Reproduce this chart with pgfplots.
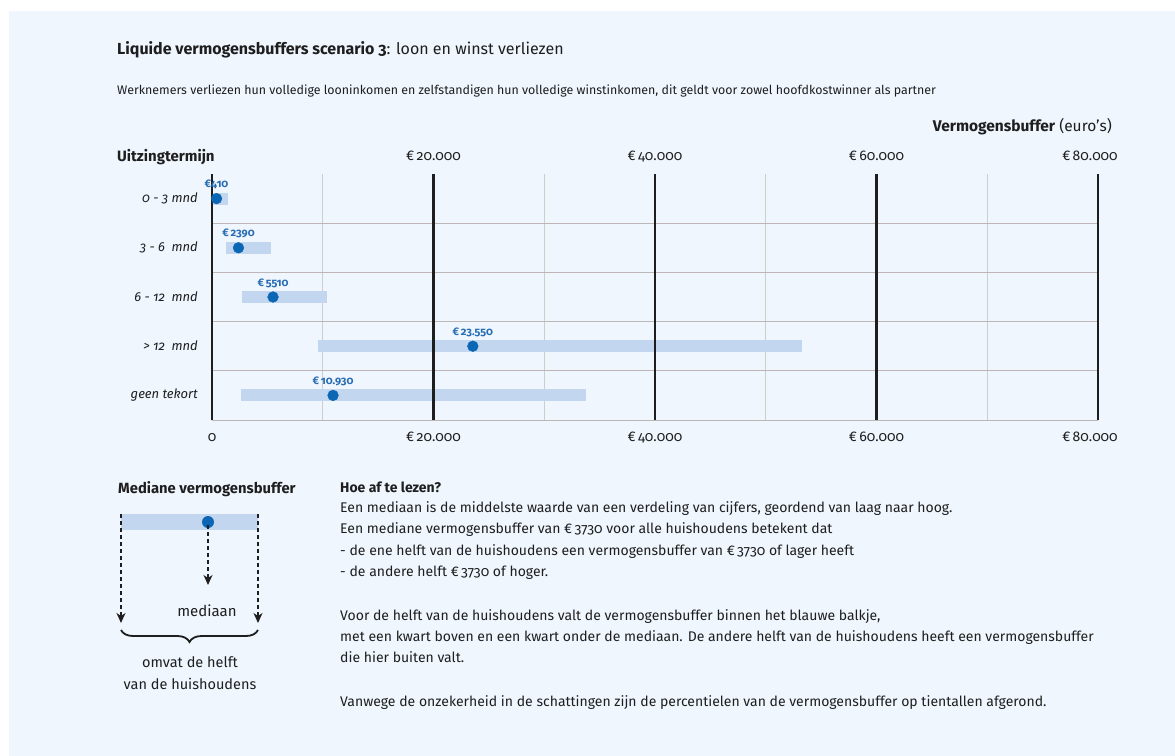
\documentclass[border=0pt]{standalone}
\usepackage{fontspec}
\setmainfont{Fira Sans}[Numbers=OldStyle]
\usepackage{pgfplots}
\pgfplotsset{compat=1.18}
\usetikzlibrary{arrows.meta,decorations.pathreplacing}

\definecolor{panel}{RGB}{239,246,254}
\definecolor{barfill}{RGB}{194,214,240}
\definecolor{dotblue}{RGB}{11,102,180}
\definecolor{labblue}{RGB}{40,108,180}
\definecolor{ink}{RGB}{30,30,30}
\definecolor{minorgray}{RGB}{205,205,205}
\definecolor{sepgray}{RGB}{190,182,182}

\newcommand{\fs}[2]{\fontsize{#1bp}{#2bp}\selectfont}

\begin{document}
\begin{tikzpicture}
\fill[white] (0,0) rectangle (1175bp,-756bp);
\fill[panel] (9bp,-11bp) rectangle (1175bp,-756bp);

% titels
\node[anchor=base west, inner sep=0, text=ink, font=\fs{16}{19}] at (117bp,-54bp)
  {\textbf{Liquide vermogensbuffers scenario 3}: loon en winst verliezen};
\node[anchor=base west, inner sep=0, text=ink, font=\fs{12.4}{15}] at (117bp,-94bp)
  {Werknemers verliezen hun volledige looninkomen en zelfstandigen hun volledige winstinkomen, dit geldt voor zowel hoofdkostwinner als partner};
\node[anchor=base east, inner sep=0, text=ink, font=\fs{15.5}{18}] at (1112bp,-131bp)
  {\textbf{Vermogensbuffer} (euro’s)};
\node[anchor=base west, inner sep=0, text=ink, font=\fs{15}{18}\bfseries] at (117bp,-161bp)
  {Uitzingtermijn};

% hoofdas: balken, hulplijnen, onderste labels
\begin{axis}[
  at={(212bp,-420bp)}, anchor=south west,
  width=886bp, height=246bp, scale only axis,
  xmin=0, xmax=80000, ymin=0.5, ymax=5.5,
  scaled x ticks=false,
  axis line style={draw=none},
  major tick length=0pt, minor tick length=0pt,
  xtick={0,20000,40000,60000,80000},
  xticklabels={0,€\,20.000,€\,40.000,€\,60.000,\hspace*{-16bp}€\,80.000},
  minor xtick={10000,30000,50000,70000},
  xminorgrids, minor x grid style={minorgray, line width=1.3bp},
  ytick={1,2,3,4,5},
  yticklabels={geen tekort,> 12\ \ mnd,6 - 12\ \ mnd,3 - 6\ \ mnd,0 - 3 mnd},
  minor ytick={0.5,1.5,2.5,3.5,4.5},
  yminorgrids, minor y grid style={sepgray, line width=1bp},
  xticklabel style={font=\fs{14}{16}, text=ink, anchor=base, inner sep=0, yshift=-21.5bp},
  yticklabel style={font=\fs{13}{16}\itshape, text=ink, anchor=east, inner sep=0, xshift=-14bp},
]
\addplot[barfill, line width=12bp] coordinates {(0,5) (1420,5)};
\addplot[barfill, line width=12bp] coordinates {(1260,4) (5300,4)};
\addplot[barfill, line width=12bp] coordinates {(2680,3) (10380,3)};
\addplot[barfill, line width=12bp] coordinates {(9540,2) (53300,2)};
\addplot[barfill, line width=12bp] coordinates {(2590,1) (33740,1)};
\end{axis}

% tweede as: dikke lijnen, bovenste labels, medianen
\begin{axis}[
  at={(212bp,-420bp)}, anchor=south west,
  width=886bp, height=246bp, scale only axis,
  xmin=0, xmax=80000, ymin=0.5, ymax=5.5,
  scaled x ticks=false,
  axis line style={draw=none}, clip=false,
  major tick length=0pt,
  xtick={0,20000,40000,60000,80000},
  xticklabels={,€\,20.000,€\,40.000,€\,60.000,\hspace*{-16bp}€\,80.000},
  xticklabel pos=upper,
  xmajorgrids, major x grid style={ink, line width=2.3bp},
  ytick=\empty,
  xticklabel style={font=\fs{14}{16}, text=ink, anchor=base, inner sep=0, yshift=13.5bp},
]
\addplot[only marks, mark=*, mark size=5.4pt, color=dotblue,
  point meta=explicit symbolic, nodes near coords,
  every node near coord/.append style={font=\fs{11}{13}\bfseries, text=labblue, anchor=base, inner sep=0, yshift=11bp}]
  coordinates {
    (410,5) [€410]
    (2390,4) [€\,2390]
    (5510,3) [€\,5510]
    (23550,2) [€\,23.550]
    (10930,1) [€\,10.930]
  };
\end{axis}

% legenda mediaan
\node[anchor=base west, inner sep=0, text=ink, font=\fs{14.8}{17}\bfseries] at (118bp,-493bp)
  {Mediane vermogensbuffer};
\fill[barfill] (121bp,-514bp) rectangle (258bp,-530bp);
\fill[dotblue] (208bp,-522bp) circle (6bp);
\begin{scope}[ink, line width=1.3bp, dash pattern=on 4bp off 3bp,
  -{Stealth[length=10bp,width=9bp,inset=3bp]}]
  \draw (121bp,-514bp) -- (121bp,-623bp);
  \draw (258bp,-514bp) -- (258bp,-623bp);
  \draw (208bp,-525bp) -- (208bp,-585bp);
\end{scope}
\node[text=ink, font=\fs{15}{18}, inner sep=0] at (207bp,-611bp) {mediaan};
\draw[ink, line width=1.8bp, decorate, decoration={brace, amplitude=12bp, mirror}]
  (121bp,-630bp) -- (258bp,-630bp);
\node[text=ink, font=\fs{14.5}{17}, inner sep=0] at (190bp,-662bp) {omvat de helft};
\node[text=ink, font=\fs{14.5}{17}, inner sep=0] at (190bp,-684bp) {van de huishoudens};

% leeswijzer
\begin{scope}[every node/.style={anchor=base west, inner sep=0, text=ink, font=\fs{14}{16}}]
\node at (340bp,-492bp) {\textbf{Hoe af te lezen?}};
\node at (340bp,-512bp) {Een mediaan is de middelste waarde van een verdeling van cijfers, geordend van laag naar hoog.};
\node at (340bp,-533bp) {Een mediane vermogensbuffer van €\,3730 voor alle huishoudens betekent dat};
\node at (340bp,-555bp) {- de ene helft van de huishoudens een vermogensbuffer van €\,3730 of lager heeft};
\node at (340bp,-576bp) {- de andere helft €\,3730 of hoger.};
\node at (340bp,-620bp) {Voor de helft van de huishoudens valt de vermogensbuffer binnen het blauwe balkje,};
\node at (340bp,-641bp) {met een kwart boven en een kwart onder de mediaan. De andere helft van de huishoudens heeft een vermogensbuffer};
\node at (340bp,-662bp) {die hier buiten valt.};
\node at (340bp,-706bp) {Vanwege de onzekerheid in de schattingen zijn de percentielen van de vermogensbuffer op tientallen afgerond.};
\end{scope}
\end{tikzpicture}
\end{document}
